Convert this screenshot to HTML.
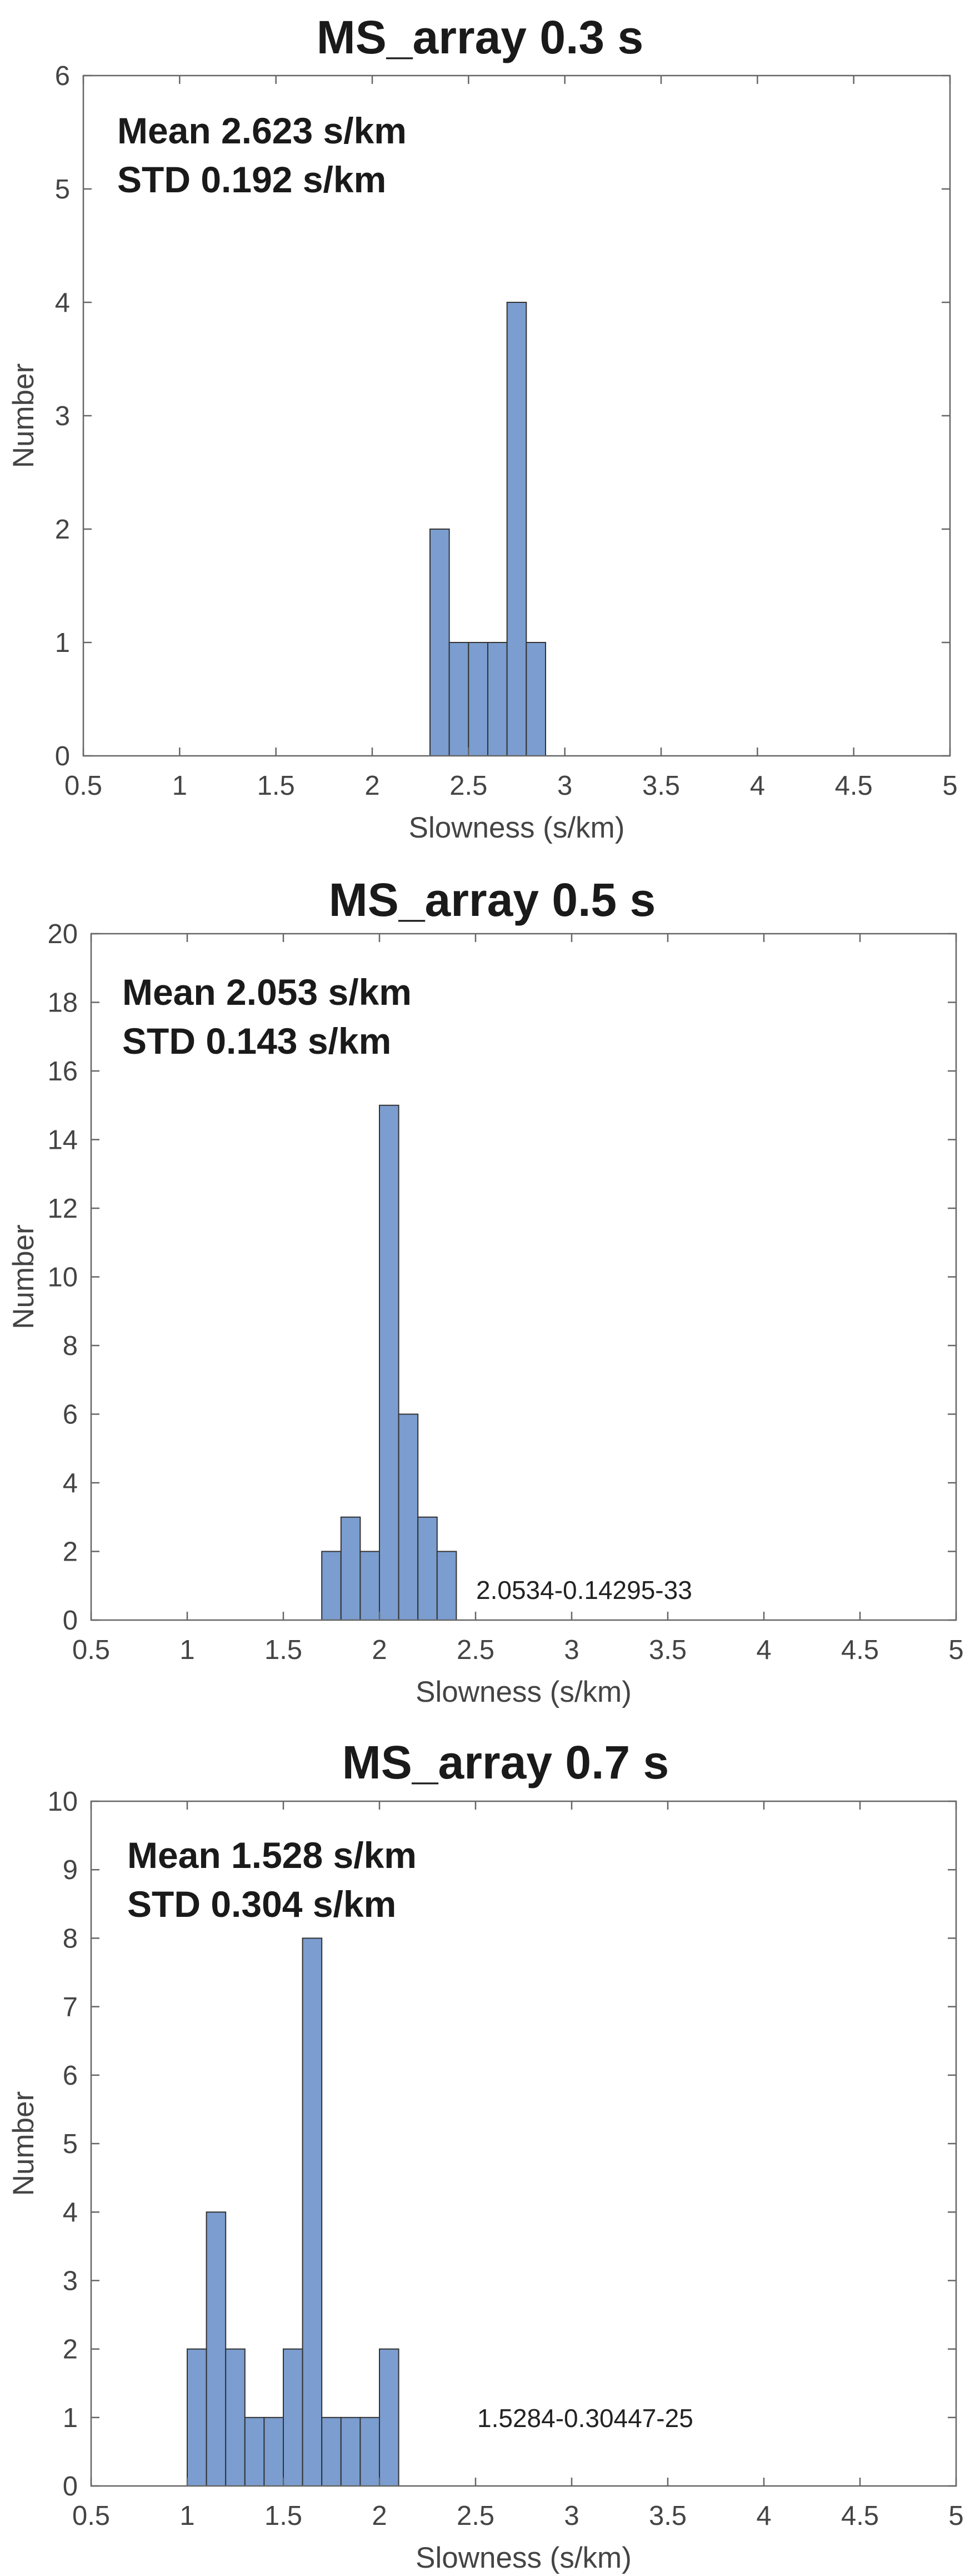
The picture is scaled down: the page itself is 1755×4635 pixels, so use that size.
<!DOCTYPE html>
<html><head><meta charset="utf-8"><style>
html,body{margin:0;padding:0;background:#fff;}
svg{display:block;font-family:"Liberation Sans",Arial,sans-serif;}
</style></head><body>
<svg id="chart" width="1755" height="4635" viewBox="0 0 1755 4635" xmlns="http://www.w3.org/2000/svg"></svg>
<script>
const xTicks = [0.5,1,1.5,2,2.5,3,3.5,4,4.5,5];
const xTickLabels = ["0.5","1","1.5","2","2.5","3","3.5","4","4.5","5"];
const binWidth = 0.1;
const p1Titles = "MS_array 0.3 s";
const p1BinStarts = [2.3,2.4,2.5,2.6,2.7,2.8];
const p1Counts = [2,1,1,1,4,1];
const p1YTicks = [0,1,2,3,4,5,6];
const p2Title = "MS_array 0.5 s";
const p2BinStarts = [1.7,1.8,1.9,2.0,2.1,2.2,2.3];
const p2Counts = [2,3,2,15,6,3,2];
const p2YTicks = [0,2,4,6,8,10,12,14,16,18,20];
const p3Title = "MS_array 0.7 s";
const p3BinStarts = [1.0,1.1,1.2,1.3,1.4,1.5,1.6,1.7,1.8,1.9,2.0];
const p3Counts = [2,4,2,1,1,2,8,1,1,1,2];
const p3YTicks = [0,1,2,3,4,5,6,7,8,9,10];

const NS="http://www.w3.org/2000/svg";
const svg=document.getElementById('chart');
function mk(tag,attrs,parent,text){const e=document.createElementNS(NS,tag);for(const k in attrs)e.setAttribute(k,attrs[k]);if(text!==undefined)e.textContent=text;(parent||svg).appendChild(e);return e;}

function panel(id,cfg){
  const g=mk('g',{});
  
  
  const {L,R,T,B,yMax}=cfg;
  const xs=v=>L+(v-0.5)/(5-0.5)*(R-L);
  const ys=v=>B-v/yMax*(B-T);
  const t=mk('text',{x:cfg.titleX,y:cfg.titleY,'text-anchor':'middle','font-size':84,'font-weight':'bold',fill:'#1a1a1a'},g,cfg.title);
  
  
  cfg.starts.forEach((s,i)=>{
    const r=mk('rect',{x:xs(s),y:ys(cfg.counts[i]),width:xs(s+binWidth)-xs(s),height:B-ys(cfg.counts[i]),fill:'#7b9dcf',stroke:'#333',"stroke-width":2},g);
    
    
  });
  const ax=mk('rect',{x:L,y:T,width:R-L,height:B-T,fill:'none',stroke:'#666',"stroke-width":2.5},g);
  
  
  xTicks.forEach((v,i)=>{
    const x=xs(v);
    mk('line',{x1:x,x2:x,y1:B,y2:B-15,stroke:'#666','stroke-width':2.5},g);
    mk('line',{x1:x,x2:x,y1:T,y2:T+15,stroke:'#666','stroke-width':2.5},g);
    const tl=mk('text',{x:x,y:B+70,'text-anchor':'middle','font-size':49,fill:'#444'},g,xTickLabels[i]);
    
    
  });
  cfg.yTicks.forEach(v=>{
    const y=ys(v);
    mk('line',{x1:L,x2:L+15,y1:y,y2:y,stroke:'#666','stroke-width':2.5},g);
    mk('line',{x1:R,x2:R-15,y1:y,y2:y,stroke:'#666','stroke-width':2.5},g);
    const tl=mk('text',{x:L-24,y:y+17,'text-anchor':'end','font-size':49,fill:'#444'},g,String(v));
    
    
  });
  const xl=mk('text',{x:(L+R)/2,y:B+147,'text-anchor':'middle','font-size':53,fill:'#444'},g,'Slowness (s/km)');
  
  
  const yl=mk('text',{x:0,y:0,'text-anchor':'middle','font-size':53,fill:'#444',transform:`translate(${cfg.yLabX},${(T+B)/2}) rotate(-90)`},g,'Number');
  
  
  const m=mk('text',{x:cfg.statX,y:cfg.meanY,'font-size':66,'font-weight':'bold',fill:'#1a1a1a'},g,cfg.mean);
  
  
  const sd=mk('text',{x:cfg.statX,y:cfg.meanY+88,'font-size':66,'font-weight':'bold',fill:'#1a1a1a'},g,cfg.std);
  
  
  if(cfg.note){
    const n=mk('text',{x:cfg.noteX,y:cfg.noteY,'font-size':46,fill:'#222'},g,cfg.note);
    
    
  }
}
panel('panel-0.3s',{L:150,R:1710,T:136,B:1360,yMax:6,title:p1Titles,titleX:864,titleY:96,starts:p1BinStarts,counts:p1Counts,yTicks:p1YTicks,yLabX:60,statX:211,meanY:258,mean:'Mean 2.623 s/km',std:'STD 0.192 s/km'});
panel('panel-0.5s',{L:164,R:1721,T:1680,B:2915,yMax:20,title:p2Title,titleX:886,titleY:1648,starts:p2BinStarts,counts:p2Counts,yTicks:p2YTicks,yLabX:60,statX:220,meanY:1808,mean:'Mean 2.053 s/km',std:'STD 0.143 s/km',note:'2.0534-0.14295-33',noteX:857,noteY:2877});
panel('panel-0.7s',{L:164,R:1721,T:3241,B:4473,yMax:10,title:p3Title,titleX:910,titleY:3200,starts:p3BinStarts,counts:p3Counts,yTicks:p3YTicks,yLabX:60,statX:229,meanY:3361,mean:'Mean 1.528 s/km',std:'STD 0.304 s/km',note:'1.5284-0.30447-25',noteX:859,noteY:4367});
</script>
</body></html>
